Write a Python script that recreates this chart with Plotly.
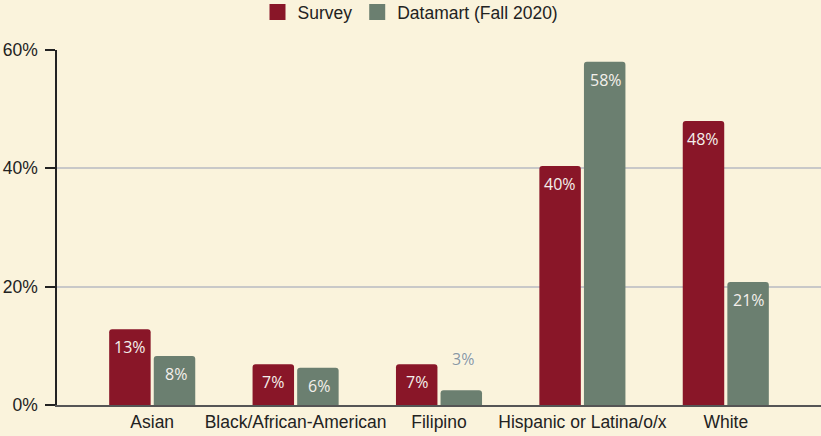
import plotly.graph_objects as go

categories = ["Asian", "Black/African-American", "Filipino", "Hispanic or Latina/o/x", "White"]
survey = [12.8, 6.9, 6.9, 40.4, 48.0]
datamart = [8.3, 6.3, 2.5, 58.0, 20.8]
survey_labels = ["13%", "7%", "7%", "40%", "48%"]
datamart_labels = ["8%", "6%", "3%", "58%", "21%"]
series_names = ["Survey", "Datamart (Fall 2020)"]

FONT = "Liberation Sans, Arial, sans-serif"
LABEL_FONT = "Open Sans, sans-serif"
BG = "#FAF3DC"
RED = "#891628"
GREEN = "#6B7F70"
THRESH = 5
FS = 17.5

fig = go.Figure()
for name, vals, col in zip(series_names, [survey, datamart], [RED, GREEN]):
    fig.add_trace(go.Bar(
        name=name, x=categories, y=vals,
        marker=dict(color=col, line=dict(width=0)),
        hoverinfo="skip", showlegend=False,
    ))

# value labels placed at each bar's value through the axes
for vals, labels, shift in [(survey, survey_labels, -22.5), (datamart, datamart_labels, 23.5)]:
    for cat, v, t in zip(categories, vals, labels):
        if v >= THRESH:
            fig.add_annotation(
                x=cat, y=v, text=t, showarrow=False, xshift=shift, yshift=-5,
                yanchor="top", font=dict(color="#F4F0EC", size=16, family=LABEL_FONT),
            )
        else:
            fig.add_annotation(
                x=cat, y=v, text=t, showarrow=False, xshift=shift, yshift=18,
                yanchor="bottom",
                font=dict(color="#8A97A0", size=16, family=LABEL_FONT,
                          shadow="0px 0px 2px white"),
            )

# legend entries with larger square swatches
for name, col in zip(series_names, [RED, GREEN]):
    fig.add_trace(go.Scatter(
        x=[None], y=[None], mode="markers", name=name,
        marker=dict(symbol="square", size=17, color=col),
        hoverinfo="skip",
    ))

fig.update_layout(
    width=821, height=436,
    paper_bgcolor=BG, plot_bgcolor=BG,
    margin=dict(l=57, r=0, t=50, b=31),
    barmode="group", bargap=0.378, bargroupgap=0.07,
    barcornerradius=3,
    font=dict(family=FONT, size=FS, color="#222"),
    legend=dict(orientation="h", x=0.5, xanchor="center", xref="container",
                y=0.972, yanchor="middle", yref="container",
                font=dict(size=FS, color="#222", family=FONT),
                bgcolor="rgba(0,0,0,0)", itemwidth=30, tracegroupgap=0),
)
fig.update_xaxes(
    range=[-0.664, 4.664], showline=True, linecolor="#555", linewidth=1.5,
    ticks="", tickfont=dict(size=FS, color="#222"), showgrid=False, zeroline=False,
)
fig.update_yaxes(
    range=[0, 60], tickvals=[0, 20, 40, 60], ticktext=["0%", "20%", "40%", "60%"],
    showline=True, linecolor="#222", linewidth=1.5,
    ticks="outside", ticklen=10, tickcolor="#222", tickwidth=1.5,
    showgrid=True, gridcolor="#C8C8C8", gridwidth=1.5, zeroline=False,
    tickfont=dict(size=FS, color="#222"), ticklabelstandoff=4,
)

fig.write_html("out.html", config={"displayModeBar": False},
               post_script="document.body.style.margin='0';document.body.style.padding='0';")
